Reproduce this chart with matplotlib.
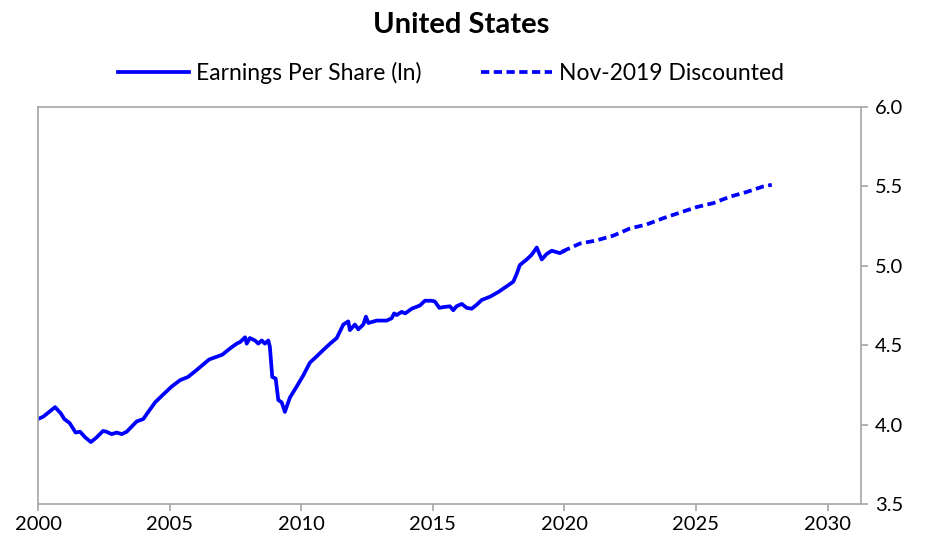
import matplotlib
matplotlib.use("Agg")
import matplotlib.pyplot as plt

plt.rcParams['font.family'] = ['Lato', 'DejaVu Sans']

# Earnings per share (ln), decimal years
eps_years = [2000.0, 2000.2, 2000.5, 2000.65, 2000.87, 2001.0, 2001.2, 2001.43, 2001.6, 2001.79,
             2002.01, 2002.23, 2002.47, 2002.6, 2002.8, 2002.99, 2003.18, 2003.37, 2003.75, 2004.0,
             2004.19, 2004.45, 2004.76, 2005.08, 2005.4, 2005.7, 2006.0, 2006.5, 2007.0, 2007.3,
             2007.55, 2007.68, 2007.87, 2007.93, 2008.05, 2008.24, 2008.37, 2008.5, 2008.62, 2008.75,
             2008.81, 2008.9, 2009.03, 2009.13, 2009.26, 2009.38, 2009.57, 2009.83, 2010.08, 2010.33,
             2010.59, 2010.84, 2011.1, 2011.35, 2011.6, 2011.79, 2011.85, 2012.04, 2012.17, 2012.36,
             2012.46, 2012.55, 2012.87, 2013.25, 2013.44, 2013.53, 2013.63, 2013.82, 2013.95, 2014.2,
             2014.51, 2014.7, 2014.96, 2015.08, 2015.25, 2015.4, 2015.65, 2015.78, 2015.9, 2016.1,
             2016.29, 2016.48, 2016.67, 2016.86, 2017.17, 2017.49, 2017.8, 2018.06, 2018.19, 2018.31,
             2018.57, 2018.76, 2018.95, 2019.14, 2019.33, 2019.52, 2019.83, 2019.95]
eps_values = [4.035, 4.05, 4.09, 4.11, 4.07, 4.035, 4.01, 3.95, 3.955, 3.92,
              3.89, 3.92, 3.96, 3.955, 3.94, 3.95, 3.94, 3.955, 4.02, 4.035,
              4.08, 4.14, 4.19, 4.24, 4.28, 4.30, 4.34, 4.41, 4.44, 4.48,
              4.51, 4.52, 4.55, 4.51, 4.545, 4.53, 4.51, 4.53, 4.51, 4.53,
              4.49, 4.30, 4.29, 4.155, 4.14, 4.08, 4.17, 4.24, 4.31, 4.39,
              4.43, 4.47, 4.51, 4.545, 4.63, 4.65, 4.595, 4.63, 4.60, 4.63,
              4.68, 4.64, 4.655, 4.655, 4.67, 4.70, 4.69, 4.71, 4.70, 4.73,
              4.75, 4.78, 4.78, 4.775, 4.735, 4.74, 4.745, 4.72, 4.745, 4.76,
              4.735, 4.73, 4.755, 4.785, 4.805, 4.835, 4.87, 4.90, 4.95, 5.005,
              5.04, 5.07, 5.115, 5.04, 5.075, 5.095, 5.08, 5.09]

# Nov-2019 discounted projection
disc_years = [2019.92, 2020.59, 2021.22, 2021.86, 2022.49, 2023.12, 2023.76, 2024.39,
              2025.03, 2025.66, 2026.29, 2026.93, 2027.56, 2027.88]
disc_values = [5.09, 5.14, 5.16, 5.19, 5.235, 5.26, 5.30, 5.335,
               5.37, 5.395, 5.435, 5.465, 5.50, 5.51]

x_ticks = [2000, 2005, 2010, 2015, 2020, 2025, 2030]
y_ticks = [3.5, 4.0, 4.5, 5.0, 5.5, 6.0]

blue = '#0000FF'
grey = '#A6A6A6'

fig = plt.figure(figsize=(9.48, 5.49), dpi=100)
ax = fig.add_axes([38/948, 1 - 504/549, (861-38)/948, (504-107)/549])

ax.plot(eps_years, eps_values, color=blue, lw=2.7, label='Earnings Per Share (ln)',
        solid_joinstyle='round')
ax.plot(disc_years, disc_values, color=blue, lw=2.7, ls=(0, (2.2, 1.2)),
        label='Nov-2019 Discounted')

ax.set_xlim(2000, 2031.27)
ax.set_ylim(3.5, 6.0)
ax.set_xticks(x_ticks)
ax.set_xticklabels([str(t) for t in x_ticks])
ax.set_yticks(y_ticks)
ax.set_yticklabels([f'{t:.1f}' for t in y_ticks])
ax.yaxis.tick_right()

for s in ax.spines.values():
    s.set_color(grey)
    s.set_linewidth(1.2)

ax.tick_params(axis='both', colors=grey, labelcolor='black', labelsize=14.5,
               direction='out', length=5, width=1.2)
ax.tick_params(axis='x', pad=4)
ax.tick_params(axis='y', pad=5)

fig.text(0.487, 0.955, 'United States', ha='center', va='center', fontsize=21,
         fontweight='bold')

fig.legend(loc='center', bbox_to_anchor=(0.476, 0.867), ncol=2, frameon=False,
           fontsize=16.5, handlelength=3.1, columnspacing=2.6, handletextpad=0.3)

fig.savefig('out.png', dpi=100)
